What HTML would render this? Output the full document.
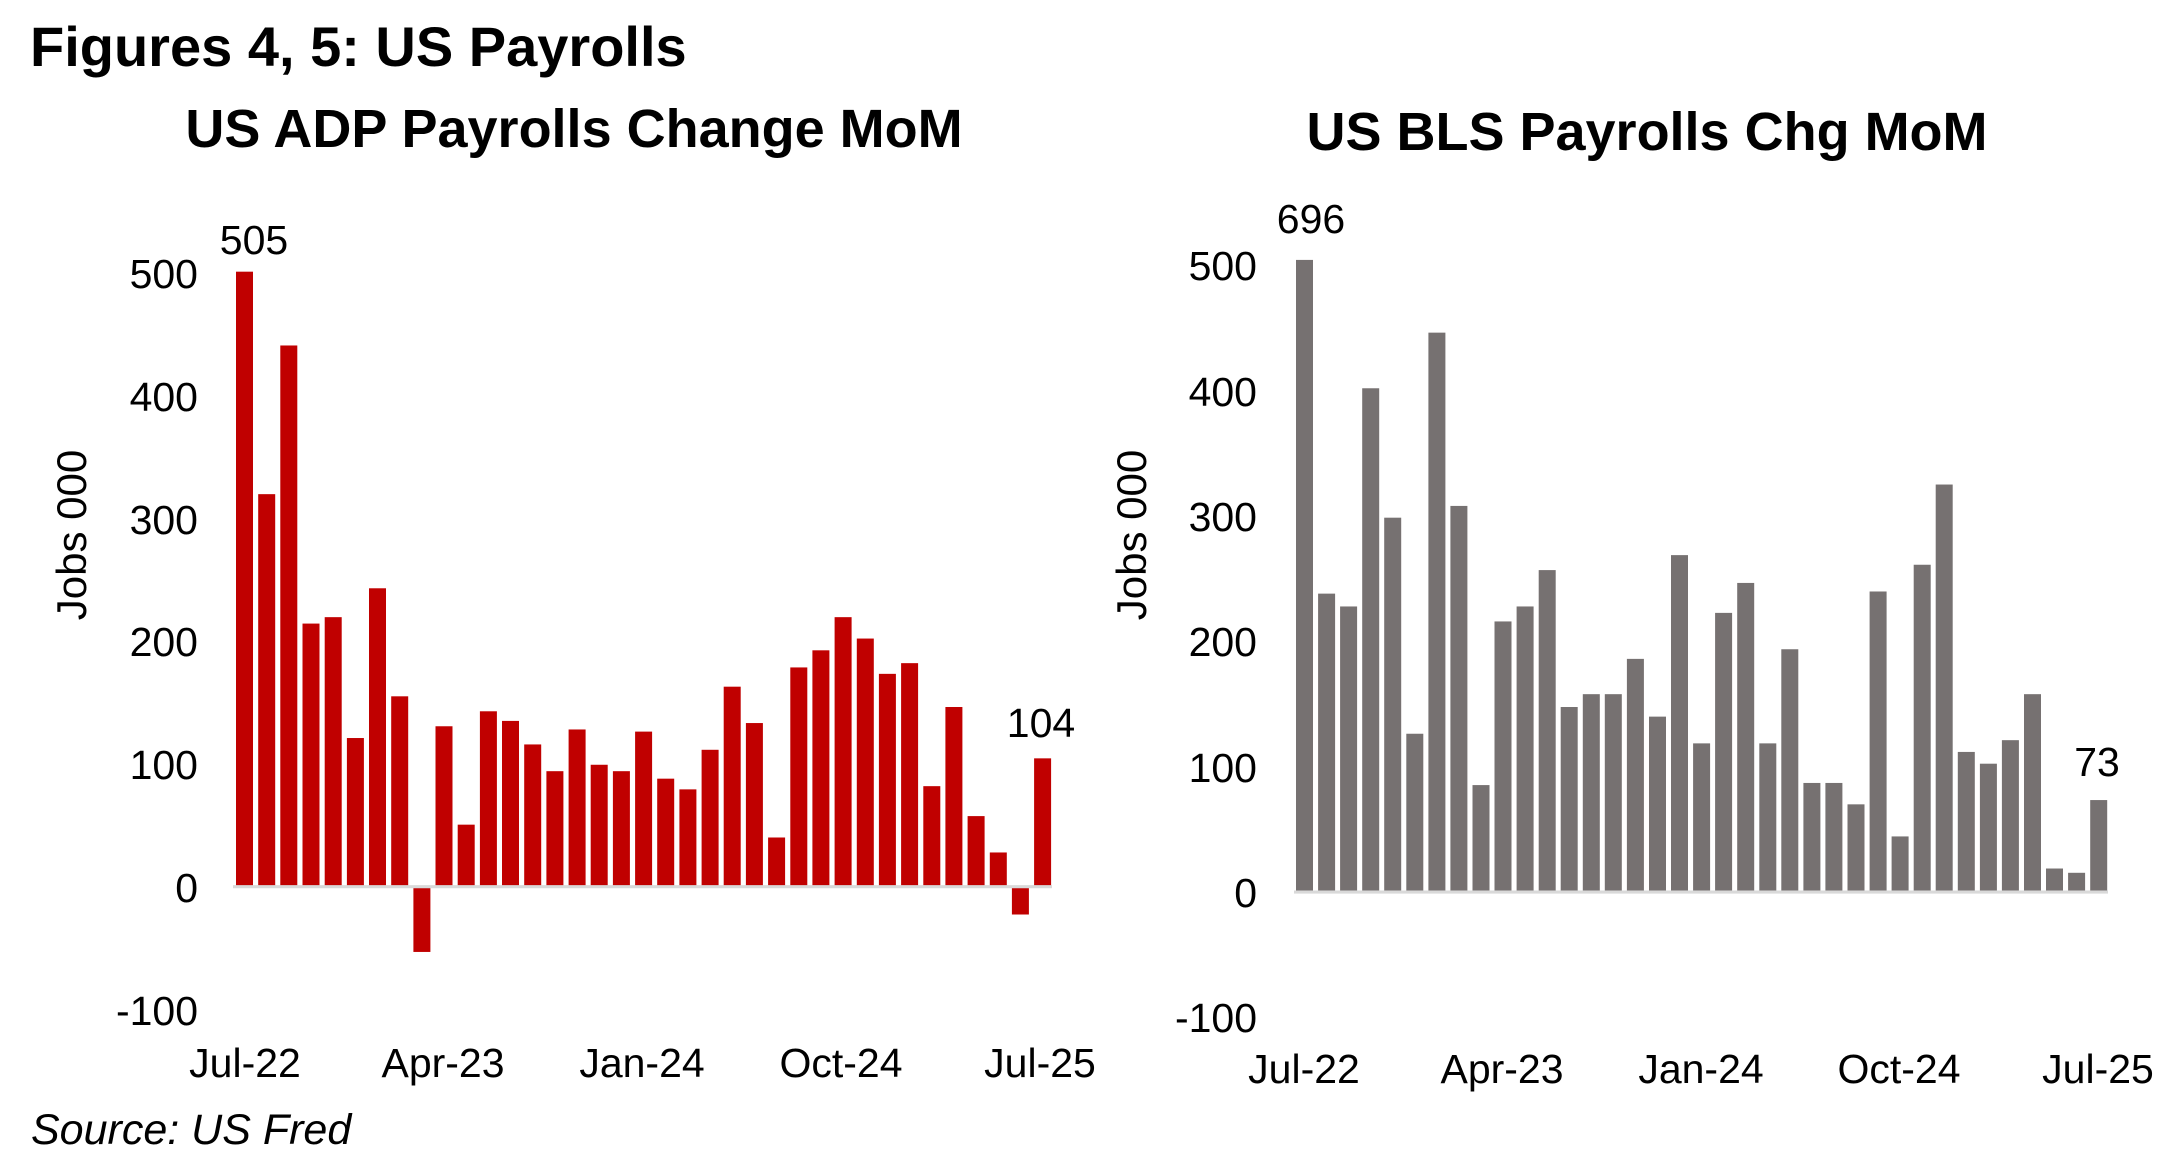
<!DOCTYPE html>
<html><head><meta charset="utf-8"><style>
html,body{margin:0;padding:0;background:#fff;}
svg{display:block;font-family:"Liberation Sans",Arial,sans-serif;}
</style></head><body>
<svg width="2182" height="1167" viewBox="0 0 2182 1167" xmlns="http://www.w3.org/2000/svg">
<rect width="2182" height="1167" fill="#fff"/>
<text x="30" y="66" font-size="56" font-weight="bold">Figures 4, 5: US Payrolls</text>
<text x="574" y="147" font-size="54" font-weight="bold" text-anchor="middle">US ADP Payrolls Change MoM</text>
<text x="1647" y="150" font-size="54" font-weight="bold" text-anchor="middle">US BLS Payrolls Chg MoM</text>

<!-- ADP -->
<g font-size="41" text-anchor="end">
<text x="198" y="288">500</text><text x="198" y="411">400</text><text x="198" y="534">300</text>
<text x="198" y="656">200</text><text x="198" y="779">100</text><text x="198" y="902">0</text><text x="198" y="1025">-100</text>
</g>
<text transform="translate(86,535) rotate(-90)" font-size="42" text-anchor="middle">Jobs 000</text>
<g transform="scale(1,1.0696)">
<g fill="#C00000">
<rect x="236" y="254" width="17" height="575"/><rect x="258.2" y="462" width="17" height="367"/>
<rect x="280.3" y="323" width="17" height="506"/><rect x="302.5" y="583" width="17" height="246"/>
<rect x="324.7" y="577" width="17" height="252"/><rect x="346.9" y="690" width="17" height="139"/>
<rect x="369" y="550" width="17" height="279"/><rect x="391.2" y="651" width="17" height="178"/>
<rect x="413.4" y="829" width="17" height="61"/><rect x="435.5" y="679" width="17" height="150"/>
<rect x="457.7" y="771" width="17" height="58"/><rect x="479.9" y="665" width="17" height="164"/>
<rect x="502" y="674" width="17" height="155"/><rect x="524.2" y="696" width="17" height="133"/>
<rect x="546.4" y="721" width="17" height="108"/><rect x="568.6" y="682" width="17" height="147"/>
<rect x="590.7" y="715" width="17" height="114"/><rect x="612.9" y="721" width="17" height="108"/>
<rect x="635.1" y="684" width="17" height="145"/><rect x="657.2" y="728" width="17" height="101"/>
<rect x="679.4" y="738" width="17" height="91"/><rect x="701.6" y="701" width="17" height="128"/>
<rect x="723.7" y="642" width="17" height="187"/><rect x="745.9" y="676" width="17" height="153"/>
<rect x="768.1" y="783" width="17" height="46"/><rect x="790.3" y="624" width="17" height="205"/>
<rect x="812.4" y="608" width="17" height="221"/><rect x="834.6" y="577" width="17" height="252"/>
<rect x="856.8" y="597" width="17" height="232"/><rect x="878.9" y="630" width="17" height="199"/>
<rect x="901.1" y="620" width="17" height="209"/><rect x="923.3" y="735" width="17" height="94"/>
<rect x="945.4" y="661" width="17" height="168"/><rect x="967.6" y="763" width="17" height="66"/>
<rect x="989.8" y="797" width="17" height="32"/><rect x="1011.9" y="829" width="17" height="26"/>
<rect x="1034.1" y="709" width="17" height="120"/>
</g>
<line x1="233" y1="829" x2="1052" y2="829" stroke="#D9D9D9" stroke-width="3"/>
</g>
<g font-size="41" text-anchor="middle">
<text x="254" y="254">505</text><text x="1041" y="737">104</text>
<text x="245" y="1077">Jul-22</text><text x="443" y="1077">Apr-23</text><text x="642" y="1077">Jan-24</text>
<text x="841" y="1077">Oct-24</text><text x="1040" y="1077">Jul-25</text>
</g>
<text x="31" y="1144" font-size="43" font-style="italic">Source: US Fred</text>

<!-- BLS -->
<g font-size="41" text-anchor="end">
<text x="1257" y="280">500</text><text x="1257" y="406">400</text><text x="1257" y="531">300</text>
<text x="1257" y="656">200</text><text x="1257" y="782">100</text><text x="1257" y="907">0</text><text x="1257" y="1032">-100</text>
</g>
<text transform="translate(1146,535) rotate(-90)" font-size="42" text-anchor="middle">Jobs 000</text>
<g transform="scale(1,1.0696)">
<g fill="#767171">
<rect x="1296" y="243" width="17" height="591"/><rect x="1318.1" y="555" width="17" height="279"/>
<rect x="1340.1" y="567" width="17" height="267"/><rect x="1362.2" y="363" width="17" height="471"/>
<rect x="1384.2" y="484" width="17" height="350"/><rect x="1406.3" y="686" width="17" height="148"/>
<rect x="1428.4" y="311" width="17" height="523"/><rect x="1450.4" y="473" width="17" height="361"/>
<rect x="1472.5" y="734" width="17" height="100"/><rect x="1494.5" y="581" width="17" height="253"/>
<rect x="1516.6" y="567" width="17" height="267"/><rect x="1538.7" y="533" width="17" height="301"/>
<rect x="1560.7" y="661" width="17" height="173"/><rect x="1582.8" y="649" width="17" height="185"/>
<rect x="1604.8" y="649" width="17" height="185"/><rect x="1626.9" y="616" width="17" height="218"/>
<rect x="1649" y="670" width="17" height="164"/><rect x="1671" y="519" width="17" height="315"/>
<rect x="1693.1" y="695" width="17" height="139"/><rect x="1715.1" y="573" width="17" height="261"/>
<rect x="1737.2" y="545" width="17" height="289"/><rect x="1759.3" y="695" width="17" height="139"/>
<rect x="1781.3" y="607" width="17" height="227"/><rect x="1803.4" y="732" width="17" height="102"/>
<rect x="1825.4" y="732" width="17" height="102"/><rect x="1847.5" y="752" width="17" height="82"/>
<rect x="1869.6" y="553" width="17" height="281"/><rect x="1891.6" y="782" width="17" height="52"/>
<rect x="1913.7" y="528" width="17" height="306"/><rect x="1935.7" y="453" width="17" height="381"/>
<rect x="1957.8" y="703" width="17" height="131"/><rect x="1979.9" y="714" width="17" height="120"/>
<rect x="2001.9" y="692" width="17" height="142"/><rect x="2024" y="649" width="17" height="185"/>
<rect x="2046" y="812" width="17" height="22"/><rect x="2068.1" y="816" width="17" height="18"/>
<rect x="2090.2" y="748" width="17" height="86"/>
</g>
<line x1="1294" y1="834" x2="2108" y2="834" stroke="#D9D9D9" stroke-width="3"/>
</g>
<g font-size="41" text-anchor="middle">
<text x="1311" y="233">696</text><text x="2097" y="776">73</text>
<text x="1304" y="1083">Jul-22</text><text x="1502" y="1083">Apr-23</text><text x="1701" y="1083">Jan-24</text>
<text x="1899" y="1083">Oct-24</text><text x="2098" y="1083">Jul-25</text>
</g>
</svg>
</body></html>
